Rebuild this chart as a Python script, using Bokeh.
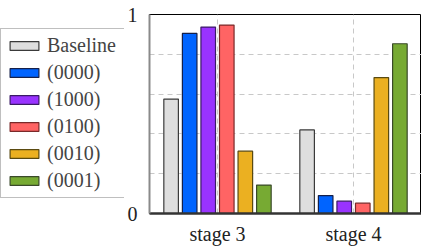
from bokeh.plotting import figure
from bokeh.layouts import row
from bokeh.models import ColumnDataSource, FactorRange, Range1d, FixedTicker, Legend, LegendItem
from bokeh.transform import dodge
from bokeh.embed import file_html
from bokeh.resources import INLINE

categories = ["stage 3", "stage 4"]
series = ["Baseline", "(0000)", "(1000)", "(0100)", "(0010)", "(0001)"]
baseline = [0.575, 0.42]
s0000 = [0.905, 0.09]
s1000 = [0.937, 0.062]
s0100 = [0.947, 0.052]
s0010 = [0.313, 0.683]
s0001 = [0.143, 0.853]
y_ticks = [0, 0.2, 0.4, 0.6, 0.8, 1]
y_labels = {0: "0", 1: "1"}

fills = ["#dedede", "#0064ff", "#9933ff", "#ff6464", "#ebb021", "#77aa33"]
edges = ["#3a3a3a", "#15204a", "#3a1a66", "#7a2a2a", "#5a4a10", "#3a4a2a"]

values = [baseline, s0000, s1000, s0100, s0010, s0001]
data = {"cat": categories}
keys = []
for i, v in enumerate(values):
    k = "v%d" % i
    data[k] = v
    keys.append(k)
source = ColumnDataSource(data)

FONT = "Liberation Serif"
H = 247
LEG_W = 124
TOP = 14
BOTTOM = 33

# main chart
p = figure(x_range=FactorRange(*categories, range_padding=0), y_range=Range1d(0, 1),
           width=421 - LEG_W, height=H, output_backend="svg", toolbar_location=None,
           min_border_left=141 - LEG_W, min_border_right=0, min_border_top=TOP, min_border_bottom=BOTTOM)

step = 19.1 / 140.0
bw = 15.0 / 140.0
for i, k in enumerate(keys):
    off = (i - 2.5) * step
    p.vbar(x=dodge("cat", off, range=p.x_range), top=k, width=bw, source=source,
           fill_color=fills[i], line_color=edges[i], line_width=1.2)

p.outline_line_color = "#000000"
p.outline_line_width = 1

p.yaxis.ticker = FixedTicker(ticks=y_ticks)
p.yaxis.major_label_overrides = {t: y_labels.get(t, "") for t in y_ticks}
p.yaxis.major_tick_line_color = None
p.yaxis.minor_tick_line_color = None
p.yaxis.axis_line_color = "#8a8a8a"
p.yaxis.axis_line_width = 2
p.yaxis.major_label_standoff = 6
p.yaxis.major_label_text_font = FONT
p.yaxis.major_label_text_font_size = "20px"
p.yaxis.major_label_text_color = "#222222"

p.xaxis.major_tick_line_color = None
p.xaxis.axis_line_color = "#333333"
p.xaxis.axis_line_width = 2.5
p.xaxis.major_label_standoff = 3
p.xaxis.major_label_text_font = FONT
p.xaxis.major_label_text_font_size = "20px"
p.xaxis.major_label_text_color = "#222222"

p.grid.grid_line_color = "#c8c8c8"
p.grid.grid_line_dash = "5 4"
p.grid.grid_line_width = 1

# legend panel (same vertical borders as the chart, since the row aligns frames)
lp = figure(x_range=Range1d(0, 1), y_range=Range1d(0, 1), width=LEG_W, height=H,
            output_backend="svg", toolbar_location=None, x_axis_type=None, y_axis_type=None,
            min_border_left=0, min_border_right=0, min_border_top=TOP, min_border_bottom=BOTTOM)
lp.outline_line_color = None
lp.grid.visible = False
items = []
for i, k in enumerate(keys):
    r = lp.vbar(x=0.5, top=k, width=0.1, source=source, fill_color=fills[i],
                line_color=edges[i], line_width=1.2, visible=False)
    items.append(LegendItem(label=series[i], renderers=[r]))

legend = Legend(items=items, location=(0, 15), label_text_font=FONT,
                label_text_font_size="20px", label_height=20, label_width=72,
                glyph_height=11, glyph_width=36,
                label_standoff=5, spacing=4, padding=5, margin=0,
                border_line_color="#808080", border_line_width=1.5,
                background_fill_alpha=1.0)
lp.add_layout(legend, "center")

layout = row(lp, p, spacing=0)
open("out.html", "w").write(file_html(layout, INLINE))
